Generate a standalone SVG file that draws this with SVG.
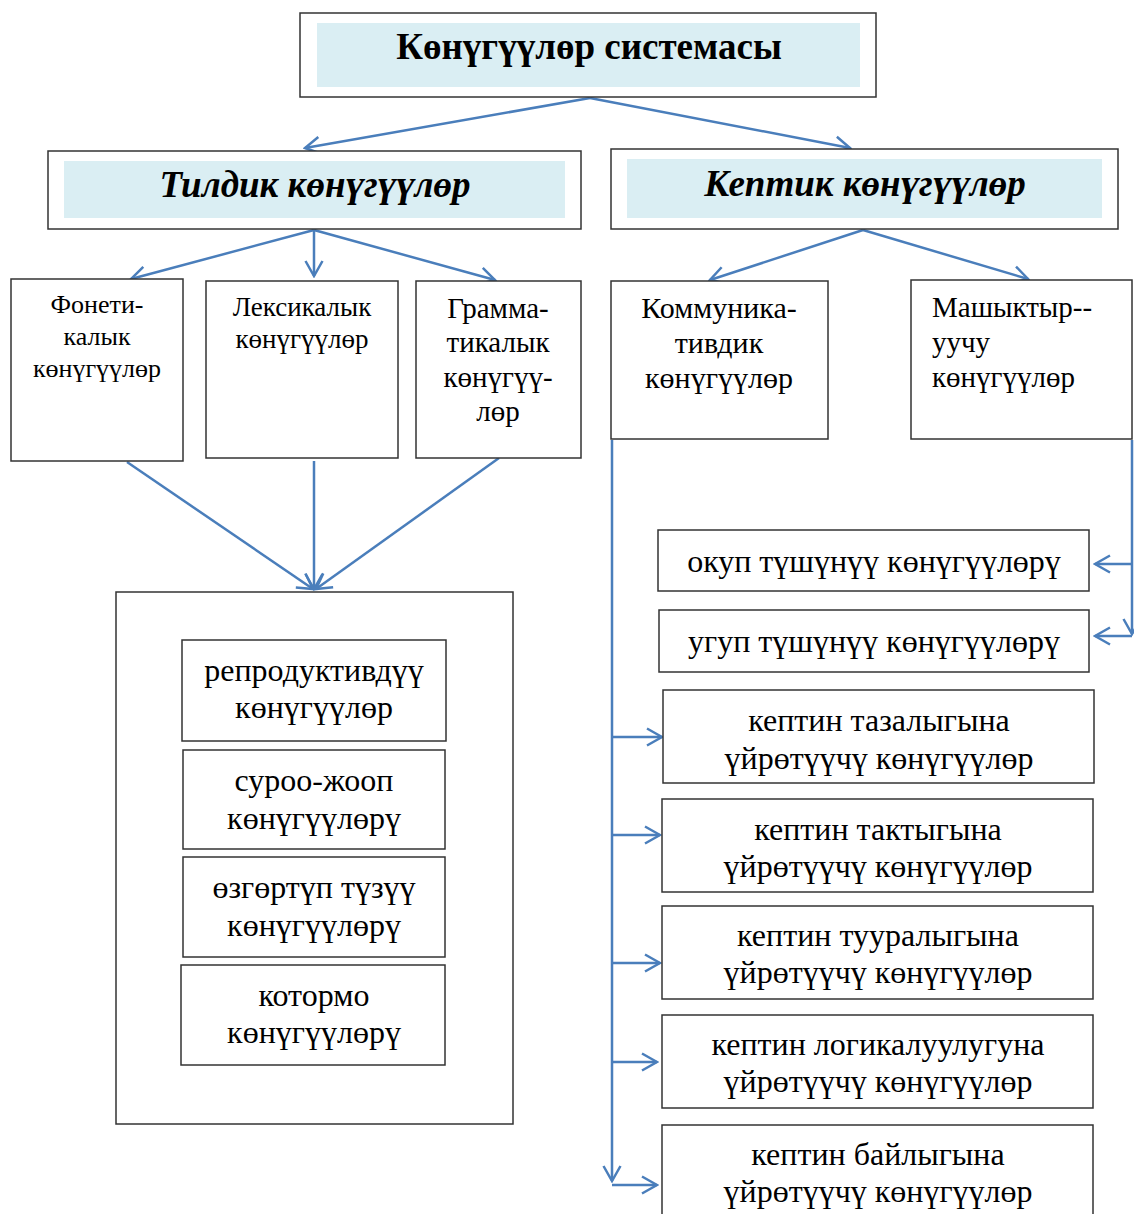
<svg xmlns="http://www.w3.org/2000/svg" width="1134" height="1214" viewBox="0 0 1134 1214">
<style>
.box{fill:#fff;stroke:#333;stroke-width:1.5}
.hl{fill:#daeef3;stroke:none}
.t{font-family:"Liberation Serif","Times New Roman",serif;fill:#000;text-anchor:middle}
.h1{font-size:37px;font-weight:bold}
.h2{font-size:37px;font-weight:bold;font-style:italic}
.s26{font-size:26px}
.s27{font-size:27px}
.s29{font-size:29px}
.s30{font-size:30px}
.s32{font-size:32px}
.c{fill:none;stroke:#4a7ebb;stroke-width:2.5}
</style>
<defs>
<marker id="ah" viewBox="0 0 20 20" refX="18" refY="10" markerWidth="20" markerHeight="20" markerUnits="userSpaceOnUse" orient="auto">
<path d="M3,1.5 L18,10 L3,18.5" fill="none" stroke="#4a7ebb" stroke-width="2.5"/>
</marker>
</defs>
<rect width="1134" height="1214" fill="#fff"/>

<g id="connectors">
<path class="c" d="M590,98 L305,148" marker-end="url(#ah)"/>
<path class="c" d="M590,98 L850,148" marker-end="url(#ah)"/>
<path class="c" d="M314,230 L131,279" marker-end="url(#ah)"/>
<path class="c" d="M314,230 L314,276" marker-end="url(#ah)"/>
<path class="c" d="M314,230 L495,280" marker-end="url(#ah)"/>
<path class="c" d="M863,230 L710,280" marker-end="url(#ah)"/>
<path class="c" d="M863,230 L1028,279" marker-end="url(#ah)"/>
<path class="c" d="M127,462 L313,589" marker-end="url(#ah)"/>
<path class="c" d="M314,461 L314,589" marker-end="url(#ah)"/>
<path class="c" d="M499,458 L316,589" marker-end="url(#ah)"/>
<path class="c" d="M612,440 L612,1181" marker-end="url(#ah)"/>
<path class="c" d="M612,737 L662,737" marker-end="url(#ah)"/>
<path class="c" d="M612,835 L660,835" marker-end="url(#ah)"/>
<path class="c" d="M612,963 L660,963" marker-end="url(#ah)"/>
<path class="c" d="M612,1062 L657,1062" marker-end="url(#ah)"/>
<path class="c" d="M612,1185 L657,1185" marker-end="url(#ah)"/>
<path class="c" d="M1132,440 L1132,634" marker-end="url(#ah)"/>
<path class="c" d="M1132,564 L1095,564" marker-end="url(#ah)"/>
<path class="c" d="M1132,636 L1095,636" marker-end="url(#ah)"/>
</g>

<g id="n-root">
<rect class="box" x="300" y="13" width="576" height="84"/>
<rect class="hl" x="317" y="23" width="543" height="64"/>
<text class="t h1" x="589" y="59">Көнүгүүлөр системасы</text>
</g>
<g id="n-tildik">
<rect class="box" x="48" y="151" width="533" height="78"/>
<rect class="hl" x="64" y="161" width="501" height="57"/>
<text class="t h2" x="315" y="197">Тилдик көнүгүүлөр</text>
</g>
<g id="n-keptik">
<rect class="box" x="611" y="149" width="507" height="80"/>
<rect class="hl" x="627" y="159" width="475" height="59"/>
<text class="t h2" x="865" y="196">Кептик көнүгүүлөр</text>
</g>

<g id="n-fonet">
<rect class="box" x="11" y="279" width="172" height="182"/>
<text class="t s26" x="97" y="313">Фонети-</text>
<text class="t s26" x="97" y="345">калык</text>
<text class="t s26" x="97" y="377">көнүгүүлөр</text>
</g>
<g id="n-leks">
<rect class="box" x="206" y="281" width="192" height="177"/>
<text class="t s27" x="302" y="316">Лексикалык</text>
<text class="t s27" x="302" y="348">көнүгүүлөр</text>
</g>
<g id="n-gramm">
<rect class="box" x="416" y="281" width="165" height="177"/>
<text class="t s29" x="498" y="318">Грамма-</text>
<text class="t s29" x="498" y="352">тикалык</text>
<text class="t s29" x="498" y="387">көнүгүү-</text>
<text class="t s29" x="498" y="421">лөр</text>
</g>
<g id="n-komm">
<rect class="box" x="611" y="281" width="217" height="158"/>
<text class="t s30" x="719" y="318">Коммуника-</text>
<text class="t s30" x="719" y="353">тивдик</text>
<text class="t s30" x="719" y="388">көнүгүүлөр</text>
</g>
<g id="n-mash">
<rect class="box" x="911" y="280" width="221" height="159"/>
<text class="t s29" x="932" y="317" style="text-anchor:start">Машыктыр--</text>
<text class="t s29" x="932" y="352" style="text-anchor:start">уучу</text>
<text class="t s29" x="932" y="387" style="text-anchor:start">көнүгүүлөр</text>
</g>

<g id="n-group">
<rect class="box" x="116" y="592" width="397" height="532"/>
</g>
<g id="n-repro">
<rect class="box" x="182" y="640" width="264" height="101"/>
<text class="t s32" x="314" y="681">репродуктивдүү</text>
<text class="t s32" x="314" y="718">көнүгүүлөр</text>
</g>
<g id="n-suroo">
<rect class="box" x="183" y="750" width="262" height="99"/>
<text class="t s32" x="314" y="791">суроо-жооп</text>
<text class="t s32" x="314" y="829">көнүгүүлөрү</text>
</g>
<g id="n-ozgort">
<rect class="box" x="183" y="857" width="262" height="100"/>
<text class="t s32" x="314" y="898">өзгөртүп түзүү</text>
<text class="t s32" x="314" y="936">көнүгүүлөрү</text>
</g>
<g id="n-kotormo">
<rect class="box" x="181" y="965" width="264" height="100"/>
<text class="t s32" x="314" y="1006">котормо</text>
<text class="t s32" x="314" y="1043">көнүгүүлөрү</text>
</g>

<g id="n-okup">
<rect class="box" x="658" y="530" width="431" height="61"/>
<text class="t s32" x="874" y="572">окуп түшүнүү көнүгүүлөрү</text>
</g>
<g id="n-ugup">
<rect class="box" x="659" y="610" width="430" height="62"/>
<text class="t s32" x="874" y="652">угуп түшүнүү көнүгүүлөрү</text>
</g>
<g id="n-taza">
<rect class="box" x="663" y="690" width="431" height="93"/>
<text class="t s32" x="879" y="731">кептин тазалыгына</text>
<text class="t s32" x="879" y="769">үйрөтүүчү көнүгүүлөр</text>
</g>
<g id="n-takt">
<rect class="box" x="662" y="799" width="431" height="93"/>
<text class="t s32" x="878" y="840">кептин тактыгына</text>
<text class="t s32" x="878" y="877">үйрөтүүчү көнүгүүлөр</text>
</g>
<g id="n-tuura">
<rect class="box" x="662" y="906" width="431" height="93"/>
<text class="t s32" x="878" y="946">кептин тууралыгына</text>
<text class="t s32" x="878" y="983">үйрөтүүчү көнүгүүлөр</text>
</g>
<g id="n-logika">
<rect class="box" x="662" y="1015" width="431" height="93"/>
<text class="t s32" x="878" y="1055">кептин логикалуулугуна</text>
<text class="t s32" x="878" y="1092">үйрөтүүчү көнүгүүлөр</text>
</g>
<g id="n-bay">
<rect class="box" x="662" y="1125" width="431" height="95"/>
<text class="t s32" x="878" y="1165">кептин байлыгына</text>
<text class="t s32" x="878" y="1202">үйрөтүүчү көнүгүүлөр</text>
</g>
</svg>
